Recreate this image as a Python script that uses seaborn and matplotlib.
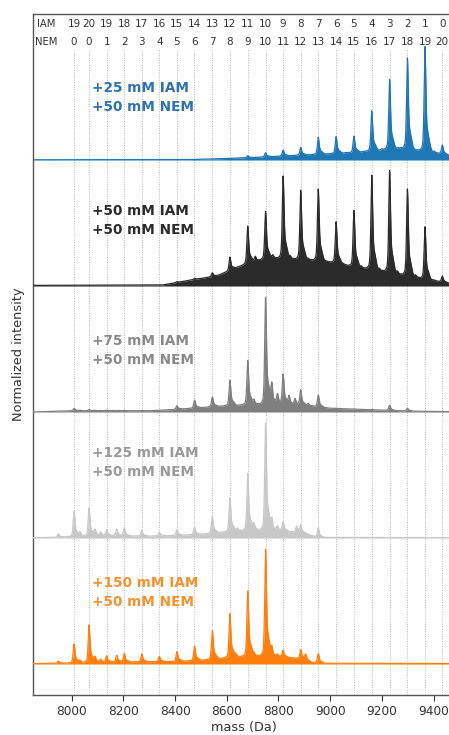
import numpy as np
import pandas as pd
import matplotlib
matplotlib.use("Agg")
import matplotlib.pyplot as plt
import seaborn as sns

# ---------------- data ----------------
peak_mass = [8009, 8067, 8135, 8203, 8271, 8339, 8407, 8475, 8544, 8612, 8681,
             8750, 8818, 8886, 8954, 9023, 9092, 9161, 9230, 9299, 9367, 9434]
iam_counts = [19, 20, 19, 18, 17, 16, 15, 14, 13, 12, 11, 10, 9, 8, 7, 6, 5, 4, 3, 2, 1, 0]
nem_counts = [0, 0, 1, 2, 3, 4, 5, 6, 7, 8, 9, 10, 11, 12, 13, 14, 15, 16, 17, 18, 19, 20]

labels = ["+25 mM IAM\n+50 mM NEM", "+50 mM IAM\n+50 mM NEM", "+75 mM IAM\n+50 mM NEM",
          "+125 mM IAM\n+50 mM NEM", "+150 mM IAM\n+50 mM NEM"]

# peak-top heights (normalized) at peak_mass, per sample
h_25 = [0, 0, 0, 0, 0, 0, 0, 0, 0.006, 0.014, 0.034, 0.058, 0.08, 0.10, 0.18, 0.185,
        0.19, 0.39, 0.64, 0.81, 0.90, 0.12]
h_50 = [0, 0, 0, 0, 0, 0, 0.035, 0.06, 0.105, 0.23, 0.476, 0.59, 0.873, 0.76, 0.77,
        0.51, 0.60, 0.88, 0.915, 0.77, 0.47, 0.08]
h_75 = [0.03, 0.02, 0.015, 0.013, 0.012, 0.012, 0.05, 0.095, 0.12, 0.254, 0.41, 0.91,
        0.30, 0.175, 0.135, 0.03, 0.025, 0.02, 0.055, 0.03, 0.005, 0]
h_125 = [0.21, 0.24, 0.065, 0.077, 0.06, 0.045, 0.065, 0.085, 0.17, 0.32, 0.51, 0.91,
         0.13, 0.10, 0.08, 0, 0, 0, 0, 0, 0, 0]
h_150 = [0.16, 0.31, 0.065, 0.085, 0.08, 0.06, 0.098, 0.143, 0.264, 0.40, 0.58, 0.91,
         0.11, 0.115, 0.085, 0, 0, 0, 0, 0, 0, 0]

# minor (side) peaks: (mass, height)
s_25 = [(9200, 0.09), (9263, 0.10), (9274, 0.095), (9329, 0.08), (9387, 0.08), (9402, 0.07),
        (9130, 0.07), (9060, 0.06)]
s_50 = [(8640, 0.15), (8710, 0.24), (8778, 0.25), (8845, 0.24), (8915, 0.22), (8985, 0.2),
        (9050, 0.18), (9120, 0.16), (9190, 0.14), (9260, 0.12), (9330, 0.09), (9400, 0.05)]
s_75 = [(8774, 0.24), (8796, 0.15), (8841, 0.135), (8864, 0.11), (8915, 0.07), (8705, 0.1),
        (8030, 0.014), (8090, 0.015), (8110, 0.013), (8160, 0.013), (8180, 0.013)]
s_125 = [(7948, 0.037), (8032, 0.05), (8090, 0.07), (8112, 0.05), (8174, 0.077), (8774, 0.16),
         (8796, 0.10), (8870, 0.10), (8705, 0.12), (8640, 0.08)]
s_150 = [(7948, 0.025), (8032, 0.03), (8090, 0.06), (8112, 0.04), (8174, 0.075), (8774, 0.14),
         (8796, 0.08), (8905, 0.08), (8705, 0.09), (8635, 0.08)]

# background envelope knots: (mass, level)
b_25 = [(7850, 0.002), (8450, 0.003), (8540, 0.008), (8640, 0.015), (8700, 0.02), (8800, 0.03),
        (8900, 0.04), (9000, 0.05), (9100, 0.06), (9200, 0.08), (9300, 0.09), (9400, 0.06),
        (9483, 0.03)]
b_50 = [(7850, 0.005), (8350, 0.008), (8400, 0.025), (8440, 0.04), (8500, 0.06), (8560, 0.08),
        (8620, 0.13), (8680, 0.18), (8740, 0.21), (8800, 0.22), (8900, 0.21), (9000, 0.19),
        (9100, 0.15), (9200, 0.12), (9300, 0.08), (9380, 0.05), (9440, 0.03), (9483, 0.015)]
b_75 = [(7850, 0.0), (7930, 0.005), (8000, 0.01), (8300, 0.01), (8400, 0.02), (8500, 0.035),
        (8600, 0.05), (8700, 0.06), (8800, 0.065), (8900, 0.055), (8960, 0.04), (9000, 0.03),
        (9100, 0.022), (9200, 0.015), (9300, 0.008), (9400, 0.004), (9483, 0.003)]
b_125 = [(7850, 0.003), (7940, 0.005), (8000, 0.012), (8100, 0.02), (8300, 0.015), (8400, 0.02),
         (8500, 0.03), (8600, 0.05), (8700, 0.065), (8800, 0.06), (8900, 0.04), (8940, 0.012),
         (8970, 0.005), (9483, 0.003)]
b_150 = [(7850, 0.003), (8000, 0.008), (8100, 0.015), (8400, 0.02), (8500, 0.03), (8600, 0.05),
         (8700, 0.065), (8800, 0.06), (8900, 0.04), (8930, 0.012), (8980, 0.006), (9483, 0.004)]

heights = [h_25, h_50, h_75, h_125, h_150]
sides = [s_25, s_50, s_75, s_125, s_150]
backgrounds = [b_25, b_50, b_75, b_125, b_150]
offsets = [4, 3, 2, 1, 0]
line_colors = ["#1f77b4", "#2b2b2b", "#7f7f7f", "#c8c8c8", "#ff7f0e"]
text_colors = ["#2f72ad", "#2b2b2b", "#8a8a8a", "#9a9a9a", "#f5922f"]
label_dy = [0.50, 0.52, 0.49, 0.60, 0.565]

# ---------------- build curves ----------------
mass = np.arange(7850, 9483.5, 0.5)


def profile(x, c, a):
    core = np.exp(-0.5 * ((x - c) / 3.2) ** 2)
    mid = 0.35 * np.exp(-np.abs(x - c) / 6.0)
    tail = 0.22 * np.exp(-0.5 * ((x - c - 9) / 7.0) ** 2)
    norm = 1.35 + 0.22 * np.exp(-0.5 * (9 / 7.0) ** 2)
    return a * (core + mid + tail) / norm


frames = []
for i in range(5):
    bk = np.array(backgrounds[i])
    bg = np.interp(mass, bk[:, 0], bk[:, 1])
    y = bg.copy()
    for c, h in zip(peak_mass, heights[i]):
        a = max(h - np.interp(c, bk[:, 0], bk[:, 1]), 0)
        y = y + profile(mass, c, a)
    for c, h in sides[i]:
        a = max(h - np.interp(c, bk[:, 0], bk[:, 1]), 0)
        y = y + profile(mass, c, a * 0.9)
    frames.append(pd.DataFrame({"mass": mass, "y": y + offsets[i], "sample": labels[i]}))

# ---------------- plot ----------------
sns.set_theme(style="ticks")
plt.rcParams["font.family"] = ["DejaVu Sans"]

fig = plt.figure(figsize=(4.49, 7.35), dpi=100)
ax = fig.add_axes([33 / 449, 40 / 735, 422 / 449, 681 / 735])

x_left = 7850
x_right = 7850 + 422 / 0.2584
ax.set_xlim(x_left, x_right)
ax.set_ylim(-0.246, 5.159)

for m in peak_mass:
    ax.plot([m, m], [-0.246, 4.87], ls=(0, (1, 1.5)), color="#b5b5b5", lw=0.7, zorder=0)

for i, df in enumerate(frames):
    ax.fill_between(df["mass"], offsets[i], df["y"], color=line_colors[i], lw=0, zorder=2 + i)
    sns.lineplot(data=df, x="mass", y="y", color=line_colors[i], lw=0.9, ax=ax,
                 estimator=None, zorder=2 + i)
    ax.text(8079, offsets[i] + label_dy[i], labels[i], color=text_colors[i], fontsize=9.8,
            fontweight="bold", ha="left", va="center", linespacing=1.45, zorder=10)

# header rows
ax.text(7900, 5.08, "IAM", fontsize=7.2, color="#333333", ha="center", va="center")
ax.text(7900, 4.94, "NEM", fontsize=7.2, color="#333333", ha="center", va="center")
for m, ia, ne in zip(peak_mass, iam_counts, nem_counts):
    ax.text(m, 5.08, str(ia), fontsize=7.5, color="#333333", ha="center", va="center")
    ax.text(m, 4.94, str(ne), fontsize=7.5, color="#333333", ha="center", va="center")

ax.set_xticks([8000, 8200, 8400, 8600, 8800, 9000, 9200, 9400])
ax.set_yticks([])
ax.tick_params(axis="x", labelsize=8.7, colors="#333333", length=4, width=0.8, pad=3)
ax.set_xlabel("mass (Da)", fontsize=9.3, color="#333333", labelpad=2)
ax.set_ylabel("Normalized intensity", fontsize=9.3, color="#333333", labelpad=6)
for s in ["left", "bottom", "top"]:
    ax.spines[s].set_color("#555555")
    ax.spines[s].set_linewidth(1.0)
ax.spines["right"].set_visible(False)

fig.savefig("out.png", dpi=100)
